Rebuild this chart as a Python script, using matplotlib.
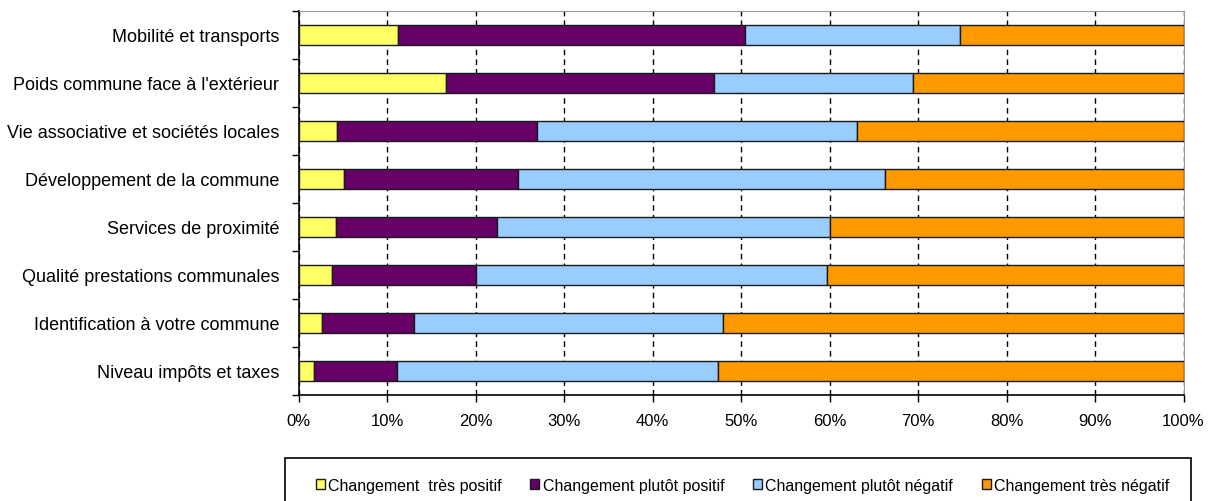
import matplotlib
matplotlib.use("Agg")
import matplotlib.pyplot as plt
import numpy as np
from matplotlib.ticker import FixedLocator, PercentFormatter
from matplotlib.patches import Rectangle

categories = ["Mobilité et transports", "Poids commune face à l'extérieur",
              "Vie associative et sociétés locales", "Développement de la commune",
              "Services de proximité", "Qualité prestations communales",
              "Identification à votre commune", "Niveau impôts et taxes"]
tres_positif = [11.2, 16.7, 4.4, 5.1, 4.2, 3.8, 2.7, 1.8]
plutot_positif = [39.3, 30.2, 22.5, 19.7, 18.2, 16.3, 10.3, 9.3]
plutot_negatif = [24.3, 22.5, 36.2, 41.5, 37.7, 39.6, 35.0, 36.3]
tres_negatif = [25.2, 30.6, 36.9, 33.7, 39.9, 40.3, 52.0, 52.6]
series_names = ["Changement  très positif", "Changement plutôt positif",
                "Changement plutôt négatif", "Changement très négatif"]
colors = ["#FFFF66", "#660066", "#99CCFF", "#FF9900"]

plt.rcParams['font.family'] = ['Liberation Sans', 'DejaVu Sans']
fig = plt.figure(figsize=(12.2, 5.02), dpi=100)
ax = fig.add_axes([298.5/1220, 1-396/502, (1183.5-298.5)/1220, (396-12)/502])

y = np.arange(len(categories))[::-1]
data = [tres_positif, plutot_positif, plutot_negatif, tres_negatif]
left = np.zeros(len(categories))
handles = []
for vals, c, name in zip(data, colors, series_names):
    v = np.array(vals, dtype=float)
    h = ax.barh(y, v, left=left, height=0.4, color=c, edgecolor="#1a1a1a",
                linewidth=1.0, label=name, zorder=3)
    handles.append(h)
    left += v

ax.set_xlim(0, 100)
ax.set_ylim(-0.5, len(categories) - 0.5)
ax.xaxis.set_major_locator(FixedLocator(np.arange(0, 101, 10)))
ax.xaxis.set_major_formatter(PercentFormatter(decimals=0))
ax.set_yticks(y)
ax.set_yticklabels(categories)
ax.yaxis.set_minor_locator(FixedLocator(np.arange(-0.5, len(categories), 1)))
ax.tick_params(axis='y', which='major', length=0, pad=14, labelsize=13)
ax.tick_params(axis='y', which='minor', length=5, width=1, direction='out')
ax.tick_params(axis='x', which='major', length=5, width=1, direction='out', labelsize=12, pad=8)
ax.grid(axis='x', color='black', linestyle=(0, (4, 3)), linewidth=1, zorder=0)
for s in ['top', 'right']:
    ax.spines[s].set_color('#999999')
ax.spines['left'].set_linewidth(1.2)
ax.spines['bottom'].set_linewidth(1.2)

# legend box
fig.patches.append(Rectangle((285/1220, -0.05), (1191-285)/1220, (1-459/502) + 0.05,
                             transform=fig.transFigure, fill=False,
                             edgecolor='black', linewidth=1.2))
leg = fig.legend(handles=handles, loc='center',
                 bbox_to_anchor=(742.5/1220, 1-486.5/502),
                 ncol=4, fontsize=11.5, frameon=False,
                 handlelength=0.56, handleheight=0.56,
                 handletextpad=0.2, columnspacing=1.8, borderaxespad=0, borderpad=0)

fig.savefig("out.png", dpi=100)
